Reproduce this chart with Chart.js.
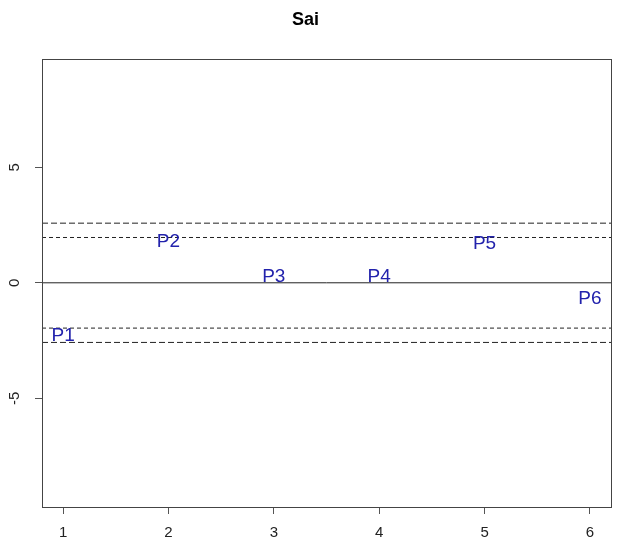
<!DOCTYPE html>
<html>
<head>
<meta charset="utf-8">
<script src="https://cdn.jsdelivr.net/npm/chart.js@4/dist/chart.umd.min.js"></script>
<style>
  body { margin: 0; background: #fff; }
  #wrap { width: 617px; height: 544px; }
</style>
</head>
<body>
<div id="wrap"><canvas id="chart"></canvas></div>
<script>
// values
const pointNames = ['P1', 'P2', 'P3', 'P4', 'P5', 'P6'];
const xValues = [1, 2, 3, 4, 5, 6];
const yValues = [-2.24, 1.83, 0.35, 0.35, 1.75, -0.61];
const xTicks = [1, 2, 3, 4, 5, 6];
const yTicks = [-5, 0, 5];
const limits95 = [-1.96, 1.96];
const limits99 = [-2.58, 2.58];
const xRange = [0.8, 6.2];
const yRange = [-9.7, 9.7];

const FONT = "'Liberation Sans', Arial, sans-serif";

function hline(y, dash) {
  return {
    data: [{ x: xRange[0], y: y }, { x: xRange[1], y: y }],
    showLine: true,
    borderColor: '#222',
    borderWidth: 1,
    borderDash: dash,
    pointRadius: 0,
    label: 'line'
  };
}

const datasets = [
  {
    label: 'points',
    data: xValues.map((x, i) => ({ x: x, y: yValues[i] })),
    pointRadius: 0,
    showLine: false
  },
  hline(0, []),
  ...limits95.map(v => hline(v, [4, 3])),
  ...limits99.map(v => hline(v, [6, 3]))
];

// text labels, rotated y tick labels and the box
const drawExtras = {
  id: 'drawExtras',
  afterDatasetsDraw(chart) {
    const { ctx, chartArea, scales } = chart;
    ctx.save();
    // point labels
    ctx.fillStyle = '#2222ac';
    ctx.font = '19px ' + FONT;
    ctx.textAlign = 'center';
    ctx.textBaseline = 'alphabetic';
    pointNames.forEach((name, i) => {
      const px = scales.x.getPixelForValue(xValues[i]);
      const py = scales.y.getPixelForValue(yValues[i]);
      ctx.fillText(name, px, py + 6.8);
    });
    // box
    ctx.strokeStyle = '#444';
    ctx.lineWidth = 1;
    ctx.strokeRect(Math.round(chartArea.left) + 0.5, Math.round(chartArea.top) + 0.5,
      Math.round(chartArea.right - chartArea.left), Math.round(chartArea.bottom - chartArea.top));
    // y tick labels, rotated like R
    ctx.fillStyle = '#222';
    ctx.font = '15px ' + FONT;
    ctx.textBaseline = 'middle';
    yTicks.forEach(v => {
      const py = scales.y.getPixelForValue(v);
      ctx.save();
      ctx.translate(15, py);
      ctx.rotate(-Math.PI / 2);
      ctx.fillText(String(v), 0, 0);
      ctx.restore();
    });
    ctx.restore();
  }
};

new Chart(document.getElementById('chart'), {
  type: 'scatter',
  data: { datasets: datasets },
  plugins: [drawExtras],
  options: {
    responsive: true,
    maintainAspectRatio: false,
    animation: false,
    layout: { padding: { right: 6 } },
    plugins: {
      legend: { display: false },
      tooltip: { enabled: false },
      title: {
        display: true,
        text: 'Sai',
        color: '#000',
        font: { family: FONT, size: 18, weight: 'bold' },
        padding: { top: 9, bottom: 28 }
      }
    },
    scales: {
      x: {
        type: 'linear',
        min: xRange[0],
        max: xRange[1],
        afterBuildTicks: s => { s.ticks = xTicks.map(v => ({ value: v })); },
        afterFit: s => { s.height = 37; },
        border: { display: false },
        grid: { drawOnChartArea: false, drawTicks: true, tickLength: 7, color: '#555' },
        ticks: { color: '#222', font: { family: FONT, size: 15 }, padding: 10, maxRotation: 0 }
      },
      y: {
        type: 'linear',
        min: yRange[0],
        max: yRange[1],
        afterBuildTicks: s => { s.ticks = yTicks.map(v => ({ value: v })); },
        afterFit: s => { s.width = 42; },
        border: { display: false },
        grid: { drawOnChartArea: false, drawTicks: true, tickLength: 7, color: '#555' },
        ticks: { color: 'rgba(0,0,0,0)', font: { family: FONT, size: 15 } }
      }
    }
  }
});
</script>
</body>
</html>
